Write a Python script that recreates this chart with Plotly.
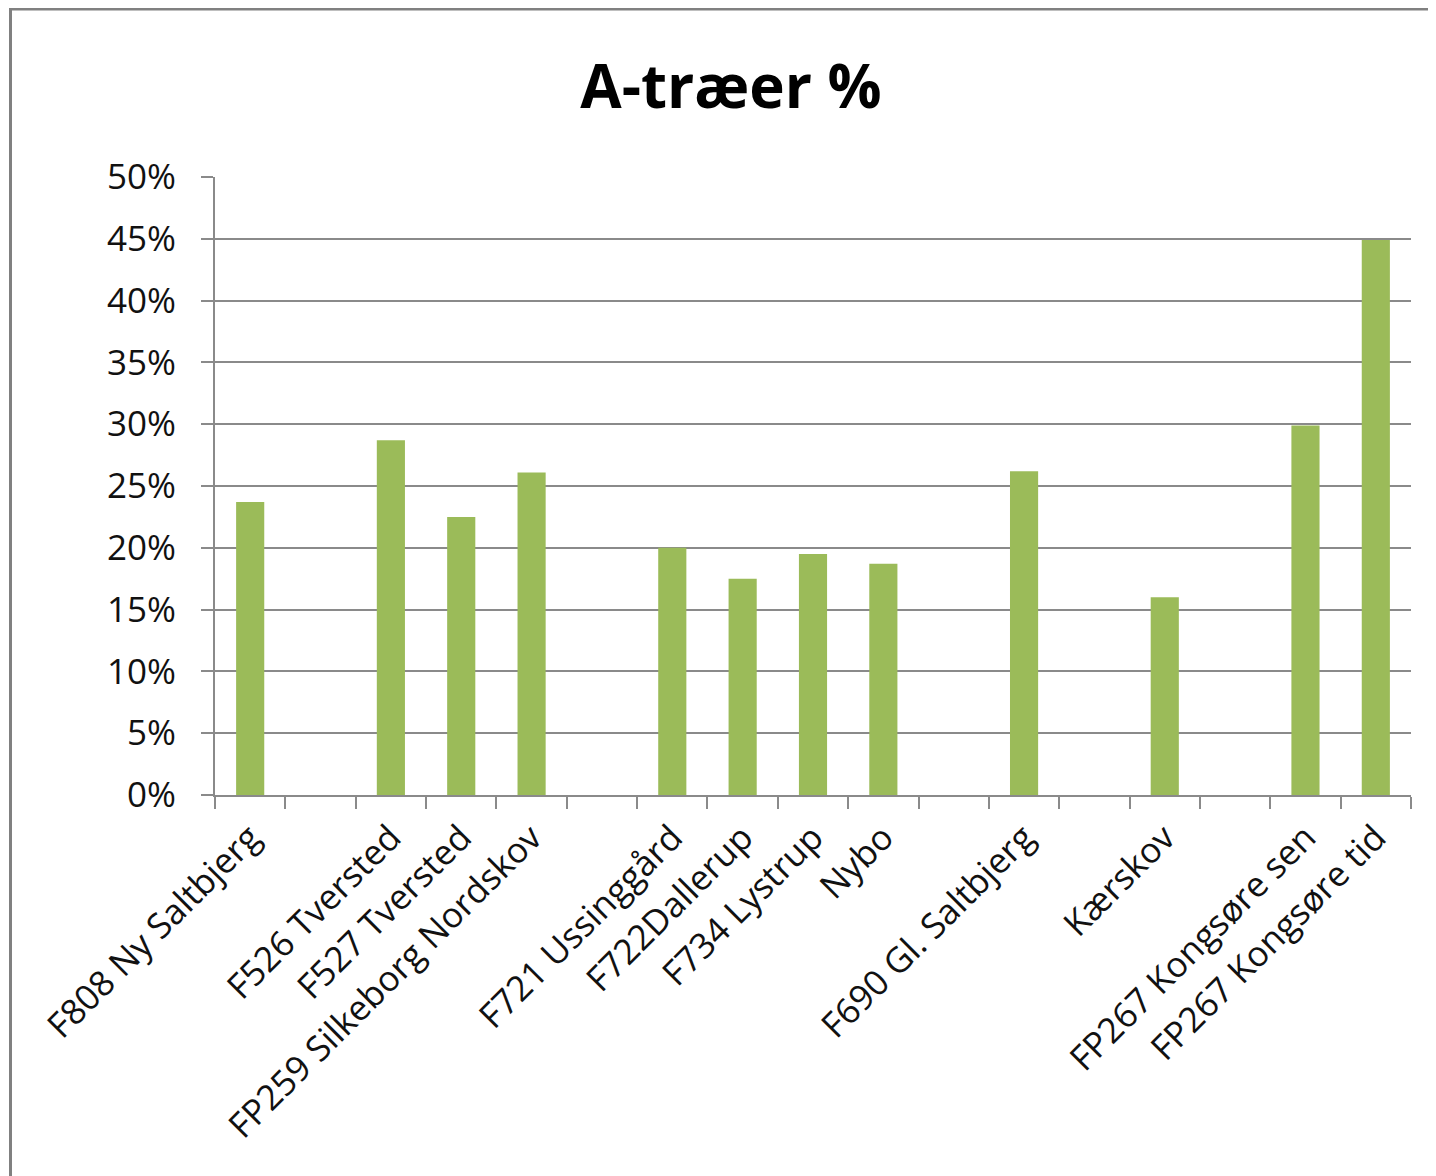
import plotly.graph_objects as go

categories = [
    "F808 Ny Saltbjerg", "", "F526 Tversted", "F527 Tversted",
    "FP259 Silkeborg Nordskov", "", "F721 Ussinggård", "F722Dallerup",
    "F734 Lystrup", "Nybo", "", "F690 Gl. Saltbjerg", "", "Kærskov", "",
    "FP267 Kongsøre sen", "FP267 Kongsøre tid",
]
values = [
    0.237, None, 0.287, 0.225, 0.261, None, 0.200, 0.175,
    0.195, 0.187, None, 0.262, None, 0.160, None, 0.299, 0.449,
]
y_ticks = [0, 0.05, 0.10, 0.15, 0.20, 0.25, 0.30, 0.35, 0.40, 0.45, 0.50]

xpos = list(range(len(categories)))
bounds = [i - 0.5 for i in range(len(categories) + 1)]

GRID = "#8a8a8a"
FONT = "Open Sans, Liberation Sans, sans-serif"
TXT = "#111111"

# page body has an 8px margin; figure is sized so the plot lands where the reference has it
W, H = 1428, 1168
L, R, T, B = 207, 25, 169, 381
PW, PH = W - L - R, H - T - B

fig = go.Figure(
    go.Bar(x=xpos, y=values, marker=dict(color="#9BBB59", line=dict(width=0)),
           width=0.4, showlegend=False)
)

fig.update_layout(
    width=W, height=H,
    margin=dict(l=L, r=R, t=T, b=B, autoexpand=False),
    paper_bgcolor="white", plot_bgcolor="white",
    font=dict(family=FONT, color=TXT),
    title=dict(text="<b>A-træer %</b>", x=723 / W, xref="container", xanchor="center",
               y=1 - 79 / H, yref="container", yanchor="middle",
               font=dict(size=60, family=FONT, color="black")),
    shapes=[dict(type="rect", xref="paper", yref="paper",
                 x0=(2.5 - L) / PW, x1=1.1, y0=-0.8, y1=(PH + T - 1) / PH,
                 line=dict(color="#808080", width=3), fillcolor="rgba(0,0,0,0)",
                 layer="below")],
)

fig.update_xaxes(
    range=[-0.5, len(categories) - 0.5],
    tickmode="array", tickvals=xpos, ticktext=categories,
    tickangle=-45, ticks="", showgrid=False, automargin=False,
    tickfont=dict(size=35, family=FONT, color=TXT),
    showline=True, linecolor=GRID, linewidth=2,
    ticklabelstandoff=6,
    minor=dict(tickmode="array", tickvals=bounds, ticks="outside", ticklen=12,
               tickcolor=GRID, tickwidth=2, showgrid=False),
    zeroline=False,
)
fig.update_yaxes(
    range=[0, 0.5], tickmode="array", tickvals=y_ticks,
    tickformat=".0%", ticks="outside", ticklen=12, tickcolor=GRID, tickwidth=2,
    showgrid=True, gridcolor=GRID, gridwidth=2,
    showline=True, linecolor=GRID, linewidth=2, zeroline=False,
    tickfont=dict(size=35, family=FONT, color=TXT),
    automargin=False, ticklabelstandoff=18,
)

fig.write_html("out.html")
